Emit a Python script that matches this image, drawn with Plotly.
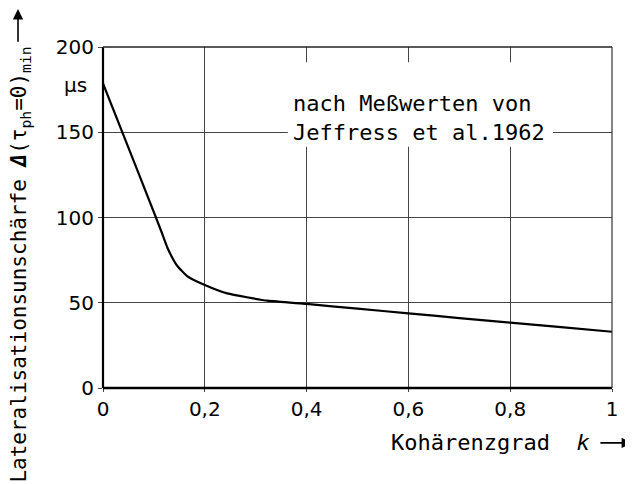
import plotly.graph_objects as go

# Data
k_values = [0, 0.04, 0.104, 0.115, 0.127, 0.145, 0.166, 0.2, 0.244, 0.323, 0.4, 0.5, 0.6, 0.7, 0.8, 0.9, 1.0]
blur_us = [178.6, 148.5, 100, 91.5, 82, 72, 65.5, 60.4, 55.5, 51.2, 49.3, 46.5, 43.8, 41.0, 38.3, 35.7, 33]

x_tickvals = [0, 0.2, 0.4, 0.6, 0.8, 1.0]
x_ticktext = ["0", "0,2", "0,4", "0,6", "0,8", "1"]
y_tickvals = [0, 50, 100, 150, 200]
y_ticktext = ["0", "50", "100", "150", "200"]

TICKFONT = "DejaVu Sans"
TXTFONT = "DejaVu Sans Mono"

fig = go.Figure()
fig.add_trace(go.Scatter(
    x=k_values, y=blur_us, mode="lines",
    line=dict(color="black", width=2.2, shape="spline", smoothing=0.45),
    showlegend=False, hoverinfo="skip",
))

fig.update_layout(
    width=625, height=476,
    margin=dict(l=95, r=21, t=39, b=96),
    paper_bgcolor="white", plot_bgcolor="white",
    font=dict(family=TICKFONT, size=20, color="black"),
    xaxis=dict(
        range=[0, 1], tickvals=x_tickvals, ticktext=x_ticktext,
        showgrid=True, gridcolor="#444", gridwidth=1,
        zeroline=False, showline=False,
        ticks="outside", ticklen=3, tickcolor="#444",
        tickfont=dict(family=TICKFONT, size=20),
    ),
    yaxis=dict(
        range=[0, 200], tickvals=y_tickvals, ticktext=y_ticktext,
        showgrid=True, gridcolor="#444", gridwidth=1,
        zeroline=False, showline=False,
        ticks="outside", ticklen=4, tickcolor="#444",
        tickfont=dict(family=TICKFONT, size=20),
    ),
    shapes=[
        # white box behind the source note
        dict(type="rect", xref="x", yref="y", x0=0.363, x1=0.884, y0=141.5, y1=191,
             fillcolor="white", line=dict(width=0), layer="above"),
        # heavy axis lines
        dict(type="line", xref="paper", yref="paper", x0=0, x1=1, y0=0, y1=0,
             line=dict(color="black", width=2.5), layer="above"),
        dict(type="line", xref="paper", yref="paper", x0=0, x1=0, y0=0, y1=1,
             line=dict(color="black", width=2.2), layer="above"),
        dict(type="line", xref="paper", yref="paper", x0=0, x1=1, y0=1, y1=1,
             line=dict(color="#222", width=1.3), layer="above"),
        dict(type="line", xref="paper", yref="paper", x0=1, x1=1, y0=0, y1=1,
             line=dict(color="#333", width=1.2), layer="above"),
    ],
    annotations=[
        dict(text="nach Meßwerten von<br>Jeffress et al.1962", xref="x", yref="y",
             x=0.369, y=158.2, xanchor="left", yanchor="middle", align="left",
             showarrow=False, font=dict(family=TXTFONT, size=22, color="black")),
        dict(text="µs", xref="paper", yref="y", x=-0.0275, y=177.7, xanchor="right",
             yanchor="middle", showarrow=False, font=dict(family=TICKFONT, size=20)),
        dict(text="Kohärenzgrad  <i>k</i>", xref="paper", yref="paper",
             x=0.961, y=-0.161, xanchor="right", yanchor="middle",
             showarrow=False, font=dict(family=TXTFONT, size=22)),
        # x-title arrow
        dict(text="", xref="paper", yref="paper", x=1.041, y=-0.161,
             ax=-34, ay=0, showarrow=True, arrowhead=2, arrowsize=1.3,
             arrowwidth=1.6, arrowcolor="black"),
        dict(text="Lateralisationsunschärfe <b><i>Δ</i></b>(τ<sub>ph</sub>=0)<sub>min</sub>",
             xref="paper", yref="paper", x=-0.163, y=0.362, xanchor="center",
             yanchor="middle", textangle=-90, showarrow=False,
             font=dict(family=TXTFONT, size=21)),
        # y-title arrow
        dict(text="", xref="paper", yref="paper", x=-0.167, y=1.114,
             ax=0, ay=35, showarrow=True, arrowhead=2, arrowsize=1.3,
             arrowwidth=1.6, arrowcolor="black"),
    ],
)

fig.write_html("out.html")
